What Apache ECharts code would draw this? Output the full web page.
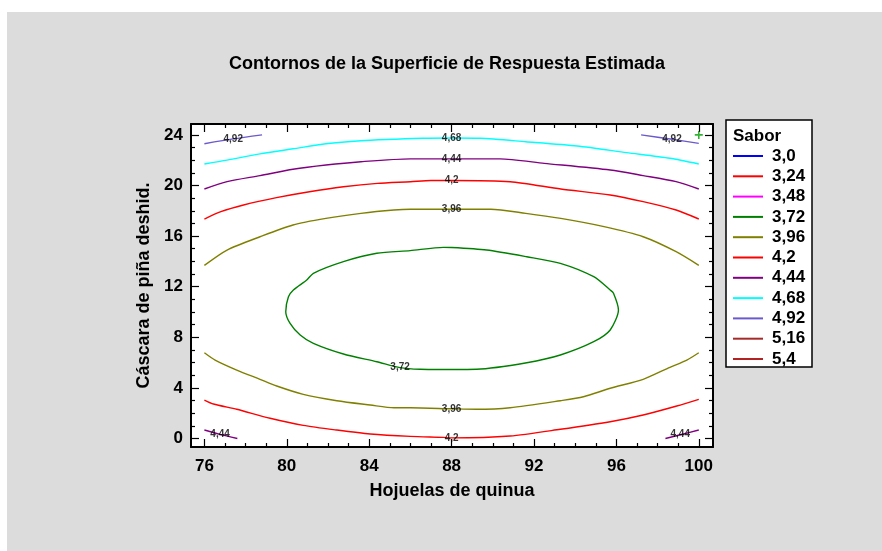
<!DOCTYPE html>
<html>
<head>
<meta charset="utf-8">
<script src="https://cdn.jsdelivr.net/npm/echarts@6/dist/echarts.min.js"></script>
<style>
html,body{margin:0;padding:0;background:#fff;}
#bg{position:absolute;left:7px;top:12px;width:875px;height:539px;background:#dcdcdc;}
#chart{position:absolute;left:0;top:0;width:882px;height:551px;}
</style>
</head>
<body>
<div id="bg"></div>
<div id="chart"></div>
<script>
// ---- data ----
const titleText = 'Contornos de la Superficie de Respuesta Estimada';
const xName = 'Hojuelas de quinua';
const yName = 'Cáscara de piña deshid.';
const legendTitle = 'Sabor';

const xMajorTicks = [76, 80, 84, 88, 92, 96, 100];
const xMinorTicks = [77, 78, 79, 81, 82, 83, 85, 86, 87, 89, 90, 91, 93, 94, 95, 97, 98, 99];
const yMajorTicks = [0, 4, 8, 12, 16, 20, 24];
const yMinorTicks = [1, 2, 3, 5, 6, 7, 9, 10, 11, 13, 14, 15, 17, 18, 19, 21, 22, 23];

const levels = ['3,0', '3,24', '3,48', '3,72', '3,96', '4,2', '4,44', '4,68', '4,92', '5,16', '5,4'];
const levelColors = ['#0000ff', '#ff0000', '#ff00ff', '#008000', '#808000', '#ff0000', '#800080', '#00ffff', '#6a5acd', '#a52a2a', '#b22222'];

// contour segments: [level, points]
const c492Left = [[76, 23.30], [77.4, 23.68], [78.8, 24.0]];
const c492Right = [[97.2, 24.0], [98.7, 23.65], [100, 23.33]];
const c468 = [[76, 21.7], [77.1, 22.0], [78.7, 22.5], [80.3, 22.9], [81.9, 23.3], [83.6, 23.54], [85.2, 23.65], [86.6, 23.73], [88, 23.75], [89.4, 23.73], [91.6, 23.46], [94.1, 23.12], [96.5, 22.6], [98.6, 22.15], [100, 21.7]];
const c444Top = [[76, 19.72], [77.1, 20.3], [78.7, 20.78], [80.3, 21.28], [81.9, 21.62], [83.6, 21.88], [86, 22.1], [88, 22.1], [90.35, 22.1], [92.5, 21.75], [95.7, 21.22], [97.3, 20.78], [98.9, 20.3], [100, 19.72]];
const c420Top = [[76, 17.35], [76.8, 17.93], [77.9, 18.46], [79.5, 19.04], [81.1, 19.51], [82.75, 19.9], [84.4, 20.17], [86, 20.3], [87, 20.4], [88, 20.4], [90.85, 20.3], [93.3, 19.72], [95.7, 19.25], [97.3, 18.72], [98.9, 18.06], [100, 17.35]];
const c396Top = [[76, 13.69], [77.1, 14.9], [78.7, 15.95], [80.3, 16.88], [81.9, 17.4], [83.6, 17.8], [85.2, 18.06], [86, 18.12], [88, 18.12], [89.9, 18.12], [91.6, 17.8], [93.3, 17.4], [95.4, 16.75], [97.3, 15.95], [98.9, 14.77], [100, 13.69]];
const c372 = [[88, 15.1], [89.7, 14.9], [91.65, 14.37], [93.28, 13.85], [94.9, 12.79], [95.7, 11.74], [95.86, 11.48], [96.1, 10.16], [95.7, 8.58], [94.9, 7.65], [93.28, 6.6], [91.65, 5.99], [89.22, 5.47], [88, 5.45], [86.47, 5.47], [85.5, 5.6], [84.37, 6.07], [82.75, 6.68], [81.29, 7.52], [80.65, 8.18], [80.16, 9.1], [79.95, 10.03], [80.08, 11.2], [80.32, 11.74], [80.97, 12.53], [81.29, 13.06], [82.75, 13.98], [84.37, 14.64], [85.99, 14.85], [87.6, 15.11], [88, 15.1]];
const c396Bottom = [[76, 6.78], [76.52, 6.2], [77.57, 5.41], [78.7, 4.68], [79.51, 4.15], [80.8, 3.49], [82.43, 2.99], [84.05, 2.65], [85.2, 2.43], [86, 2.43], [88, 2.35], [89.22, 2.31], [90.84, 2.43], [93.28, 2.99], [94.4, 3.3], [95.7, 3.97], [97.3, 4.68], [98.6, 5.63], [99.42, 6.2], [100, 6.78]];
const c420Bottom = [[76, 3.04], [76.44, 2.73], [77.57, 2.31], [79.19, 1.6], [80.8, 1.04], [82.43, 0.67], [84.05, 0.36], [86, 0.17], [87.6, 0.09], [88, 0.05], [90.84, 0.2], [93.28, 0.73], [95.7, 1.33], [97.3, 1.86], [98.93, 2.57], [100, 3.1]];
const c444BL = [[76, 0.67], [76.76, 0.33], [77.6, 0.0]];
const c444BR = [[98.38, 0.0], [99.1, 0.3], [100, 0.67]];

const segments = [
  ['4,92', c492Left], ['4,92', c492Right], ['4,68', c468], ['4,44', c444Top],
  ['4,2', c420Top], ['3,96', c396Top], ['3,72', c372], ['3,96', c396Bottom],
  ['4,2', c420Bottom], ['4,44', c444BL], ['4,44', c444BR]
];
// contour labels: [segment index, point index]
const contourLabels = [[0, 1], [1, 1], [2, 8], [3, 7], [4, 9], [5, 8], [6, 15], [7, 10], [8, 9], [9, 1], [10, 1]];
const markerPoint = [[100, 24]];

// ---- chart ----
const FONT = '"Liberation Sans", Arial, sans-serif';
const XMIN = 75.35, XMAX = 100.69, YMIN = -0.67, YMAX = 24.86;

function xAx(pos, ticks, len, withLabel, withLine) {
  return {
    type: 'value', position: pos, min: XMIN, max: XMAX,
    axisLine: { show: withLine, onZero: false, lineStyle: { color: '#000', width: 2 } },
    axisTick: { show: true, inside: true, length: len, customValues: ticks, lineStyle: { color: '#000', width: 1.2 } },
    axisLabel: withLabel ? { show: true, customValues: ticks, margin: 11, color: '#000', fontFamily: FONT, fontWeight: 'bold', fontSize: 17, formatter: v => String(v) } : { show: false },
    splitLine: { show: false },
    name: withLabel ? xName : '', nameLocation: 'middle', nameGap: 35,
    nameTextStyle: { color: '#000', fontFamily: FONT, fontWeight: 'bold', fontSize: 18 }
  };
}
function yAx(pos, ticks, len, withLabel, withLine) {
  return {
    type: 'value', position: pos, min: YMIN, max: YMAX,
    axisLine: { show: withLine, onZero: false, lineStyle: { color: '#000', width: 2 } },
    axisTick: { show: true, inside: true, length: len, customValues: ticks, lineStyle: { color: '#000', width: 1.2 } },
    axisLabel: withLabel ? { show: true, customValues: ticks, margin: 8, color: '#000', fontFamily: FONT, fontWeight: 'bold', fontSize: 17, formatter: v => String(v) } : { show: false },
    splitLine: { show: false },
    name: withLabel ? yName : '', nameLocation: 'middle', nameGap: 36, nameRotate: 90,
    nameTextStyle: { color: '#000', fontFamily: FONT, fontWeight: 'bold', fontSize: 18 }
  };
}

const colorOf = name => levelColors[levels.indexOf(name)];
const series = [];
levels.forEach(l => {
  if (!segments.some(s => s[0] === l)) {
    series.push({ type: 'line', name: l, data: [], itemStyle: { color: colorOf(l) }, lineStyle: { color: colorOf(l) } });
  }
});
segments.forEach(([lvl, pts]) => {
  series.push({
    type: 'line', name: lvl, data: pts, showSymbol: false, symbol: 'none', smooth: 0.25,
    lineStyle: { color: colorOf(lvl), width: 1.4 }, itemStyle: { color: colorOf(lvl) },
    silent: true, z: 2
  });
});
series.push({
  type: 'scatter', name: 'labels', silent: true, z: 5,
  data: contourLabels.map(([si, pi]) => ({ value: segments[si][1][pi], name: segments[si][0] })),
  symbolSize: 1, itemStyle: { color: 'rgba(0,0,0,0)' },
  label: { show: true, position: 'inside', formatter: p => p.name, color: '#000', fontFamily: FONT, fontWeight: 'bold', fontSize: 10 }
});
series.push({
  type: 'scatter', name: 'marker', silent: true, z: 6, data: markerPoint,
  symbol: 'path://M4,0 L6,0 L6,4 L10,4 L10,6 L6,6 L6,10 L4,10 L4,6 L0,6 L0,4 L4,4 Z',
  symbolSize: 8, itemStyle: { color: '#00a000' }
});

const chart = echarts.init(document.getElementById('chart'), null, { renderer: 'canvas' });
chart.setOption({
  animation: false,
  backgroundColor: 'transparent',
  title: {
    text: titleText, left: 442, top: 50, textAlign: 'center',
    textStyle: { color: '#000', fontFamily: FONT, fontWeight: 'bold', fontSize: 18 }
  },
  grid: { left: 191, top: 124, width: 522, height: 323, show: true, backgroundColor: '#fff', borderWidth: 0, containLabel: false },
  xAxis: [
    xAx('bottom', xMajorTicks, 8, true, true),
    xAx('bottom', xMinorTicks, 4, false, false),
    xAx('top', xMajorTicks, 8, false, true),
    xAx('top', xMinorTicks, 4, false, false)
  ],
  yAxis: [
    yAx('left', yMajorTicks, 8, true, true),
    yAx('left', yMinorTicks, 4, false, false),
    yAx('right', yMajorTicks, 8, false, true),
    yAx('right', yMinorTicks, 4, false, false)
  ],
  legend: {
    data: levels, orient: 'vertical', left: 733, top: 146, padding: 0, itemGap: 0.3,
    icon: 'rect', itemWidth: 30, itemHeight: 2, z: 5, selectedMode: false,
    textStyle: { color: '#000', fontFamily: FONT, fontWeight: 'bold', fontSize: 17, lineHeight: 20, padding: [0, 0, 0, 4] }
  },
  graphic: [
    { type: 'rect', z: 1, shape: { x: 726, y: 120, width: 86, height: 247 }, style: { fill: '#fff', stroke: '#000', lineWidth: 1.5 } },
    { type: 'text', z: 2, x: 733, y: 136, style: { text: legendTitle, fill: '#000', font: 'bold 17px ' + FONT, textVerticalAlign: 'middle' } }
  ],
  series: series
});
</script>
</body>
</html>
